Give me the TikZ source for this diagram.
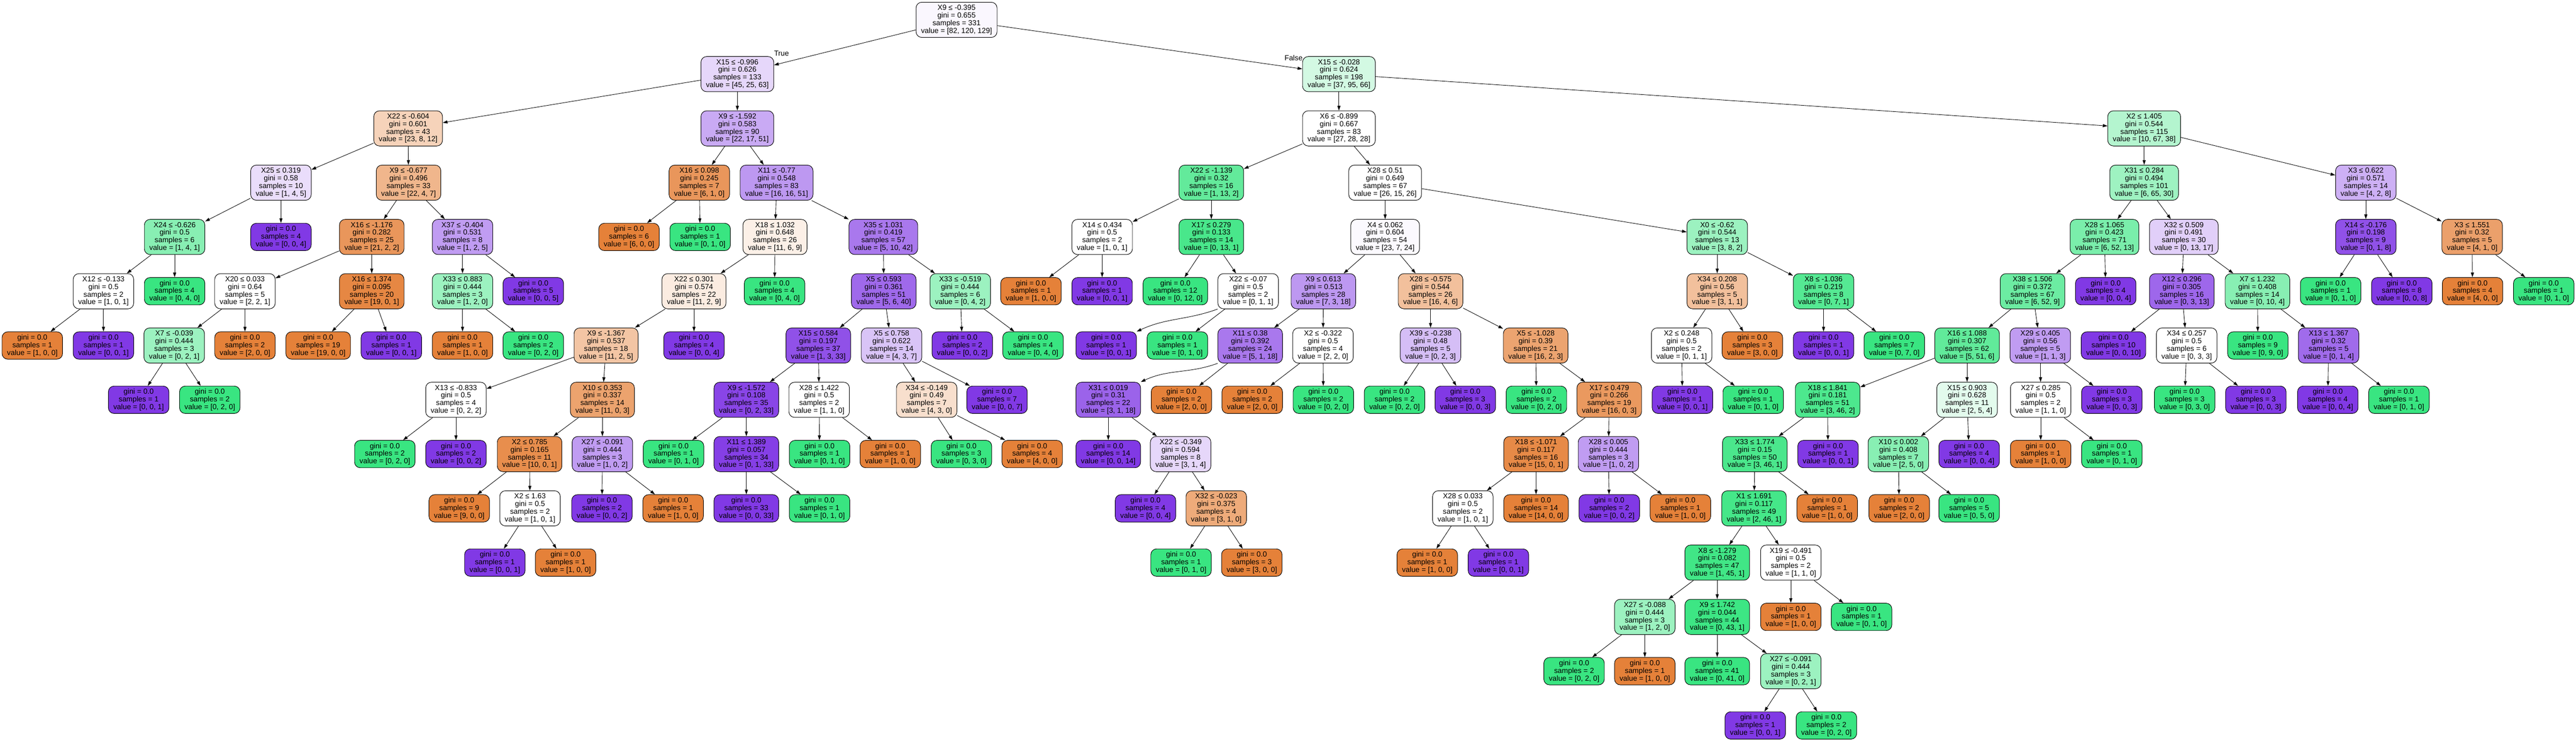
\documentclass[tikz,border=0pt]{standalone}
\usepackage{fontspec}
\setmainfont{Liberation Sans}
\usetikzlibrary{arrows.meta}
\definecolor{cOra}{RGB}{229,129,57}
\definecolor{cGrn}{RGB}{57,229,129}
\definecolor{cPur}{RGB}{129,57,229}
\tikzset{
  tnode/.style={draw, line width=0.12mm, rounded corners=1.4mm, align=center,
    inner xsep=1.22mm, inner ysep=0.5mm, font=\fontsize{5.12pt}{5.32pt}\selectfont},
  splitnode/.style={tnode, minimum height=8.6mm},
  leafnode/.style={tnode, minimum height=6.7mm},
  branch/.style={line width=0.11mm, -{Triangle[length=1.15mm,width=0.75mm]}},
  elabel/.style={inner sep=0pt, font=\fontsize{5.12pt}{5.32pt}\selectfont},
  % fill colour from the class counts
  val/.code n args={3}{%
    \pgfmathtruncatemacro\trmax{max(#1,#2,#3)}%
    \pgfmathtruncatemacro\trsnd{#1+#2+#3-\trmax-min(#1,#2,#3)}%
    \pgfmathtruncatemacro\tralpha{round(100*(\trmax-\trsnd)/(#1+#2+#3-\trsnd))}%
    \ifnum#1=\trmax\relax \def\trcls{cOra}%
    \else\ifnum#2=\trmax\relax \def\trcls{cGrn}%
    \else \def\trcls{cPur}\fi\fi
    \edef\trcol{\trcls!\tralpha!white}%
    \pgfkeysalso{fill/.expanded=\trcol}%
  },
}
\begin{document}
\begin{tikzpicture}[x=0.1mm, y=-13.27mm]
  \useasboundingbox (0,-0.3655) rectangle (6299,13.282);

  % root
  \node[splitnode, val={82}{120}{129}] (n0) at (2339,0) {X9 ≤ -0.395\\gini = 0.655\\samples = 331\\value = [82, 120, 129]};

  % left branch
  \node[splitnode, val={45}{25}{63}] (n1) at (1803,1) {X15 ≤ -0.996\\gini = 0.626\\samples = 133\\value = [45, 25, 63]};
  \node[splitnode, val={23}{8}{12}] (n2) at (998,2) {X22 ≤ -0.604\\gini = 0.601\\samples = 43\\value = [23, 8, 12]};
  \node[splitnode, val={1}{4}{5}] (n3) at (687,3) {X25 ≤ 0.319\\gini = 0.58\\samples = 10\\value = [1, 4, 5]};
  \node[splitnode, val={1}{4}{1}] (n4) at (427,4) {X24 ≤ -0.626\\gini = 0.5\\samples = 6\\value = [1, 4, 1]};
  \node[splitnode, val={1}{0}{1}] (n5) at (253,5) {X12 ≤ -0.133\\gini = 0.5\\samples = 2\\value = [1, 0, 1]};
  \node[leafnode, val={1}{0}{0}] (n6) at (79,6) {gini = 0.0\\samples = 1\\value = [1, 0, 0]};
  \node[leafnode, val={0}{0}{1}] (n7) at (253,6) {gini = 0.0\\samples = 1\\value = [0, 0, 1]};
  \node[leafnode, val={0}{4}{0}] (n8) at (427,5) {gini = 0.0\\samples = 4\\value = [0, 4, 0]};
  \node[leafnode, val={0}{0}{4}] (n9) at (687,4) {gini = 0.0\\samples = 4\\value = [0, 0, 4]};
  \node[splitnode, val={22}{4}{7}] (n10) at (999,3) {X9 ≤ -0.677\\gini = 0.496\\samples = 33\\value = [22, 4, 7]};
  \node[splitnode, val={21}{2}{2}] (n11) at (909,4) {X16 ≤ -1.176\\gini = 0.282\\samples = 25\\value = [21, 2, 2]};
  \node[splitnode, val={2}{2}{1}] (n12) at (599,5) {X20 ≤ 0.033\\gini = 0.64\\samples = 5\\value = [2, 2, 1]};
  \node[splitnode, val={0}{2}{1}] (n13) at (426,6) {X7 ≤ -0.039\\gini = 0.444\\samples = 3\\value = [0, 2, 1]};
  \node[leafnode, val={0}{0}{1}] (n14) at (339,7) {gini = 0.0\\samples = 1\\value = [0, 0, 1]};
  \node[leafnode, val={0}{2}{0}] (n15) at (513,7) {gini = 0.0\\samples = 2\\value = [0, 2, 0]};
  \node[leafnode, val={2}{0}{0}] (n16) at (599,6) {gini = 0.0\\samples = 2\\value = [2, 0, 0]};
  \node[splitnode, val={19}{0}{1}] (n17) at (909,5) {X16 ≤ 1.374\\gini = 0.095\\samples = 20\\value = [19, 0, 1]};
  \node[leafnode, val={19}{0}{0}] (n18) at (778,6) {gini = 0.0\\samples = 19\\value = [19, 0, 0]};
  \node[leafnode, val={0}{0}{1}] (n19) at (957,6) {gini = 0.0\\samples = 1\\value = [0, 0, 1]};
  \node[splitnode, val={1}{2}{5}] (n20) at (1131,4) {X37 ≤ -0.404\\gini = 0.531\\samples = 8\\value = [1, 2, 5]};
  \node[splitnode, val={1}{2}{0}] (n21) at (1131,5) {X33 ≤ 0.883\\gini = 0.444\\samples = 3\\value = [1, 2, 0]};
  \node[leafnode, val={1}{0}{0}] (n22) at (1131,6) {gini = 0.0\\samples = 1\\value = [1, 0, 0]};
  \node[leafnode, val={0}{2}{0}] (n23) at (1304,6) {gini = 0.0\\samples = 2\\value = [0, 2, 0]};
  \node[leafnode, val={0}{0}{5}] (n24) at (1304,5) {gini = 0.0\\samples = 5\\value = [0, 0, 5]};
  \node[splitnode, val={22}{17}{51}] (n25) at (1803,2) {X9 ≤ -1.592\\gini = 0.583\\samples = 90\\value = [22, 17, 51]};
  \node[splitnode, val={6}{1}{0}] (n26) at (1710,3) {X16 ≤ 0.098\\gini = 0.245\\samples = 7\\value = [6, 1, 0]};
  \node[leafnode, val={6}{0}{0}] (n27) at (1538,4) {gini = 0.0\\samples = 6\\value = [6, 0, 0]};
  \node[leafnode, val={0}{1}{0}] (n28) at (1712,4) {gini = 0.0\\samples = 1\\value = [0, 1, 0]};
  \node[splitnode, val={16}{16}{51}] (n29) at (1899,3) {X11 ≤ -0.77\\gini = 0.548\\samples = 83\\value = [16, 16, 51]};
  \node[splitnode, val={11}{6}{9}] (n30) at (1895,4) {X18 ≤ 1.032\\gini = 0.648\\samples = 26\\value = [11, 6, 9]};
  \node[splitnode, val={11}{2}{9}] (n31) at (1697,5) {X22 ≤ 0.301\\gini = 0.574\\samples = 22\\value = [11, 2, 9]};
  \node[splitnode, val={11}{2}{5}] (n32) at (1482,6) {X9 ≤ -1.367\\gini = 0.537\\samples = 18\\value = [11, 2, 5]};
  \node[splitnode, val={0}{2}{2}] (n33) at (1115,7) {X13 ≤ -0.833\\gini = 0.5\\samples = 4\\value = [0, 2, 2]};
  \node[leafnode, val={0}{2}{0}] (n34) at (941,8) {gini = 0.0\\samples = 2\\value = [0, 2, 0]};
  \node[leafnode, val={0}{0}{2}] (n35) at (1115,8) {gini = 0.0\\samples = 2\\value = [0, 0, 2]};
  \node[splitnode, val={11}{0}{3}] (n36) at (1473,7) {X10 ≤ 0.353\\gini = 0.337\\samples = 14\\value = [11, 0, 3]};
  \node[splitnode, val={10}{0}{1}] (n37) at (1295,8) {X2 ≤ 0.785\\gini = 0.165\\samples = 11\\value = [10, 0, 1]};
  \node[leafnode, val={9}{0}{0}] (n38) at (1123,9) {gini = 0.0\\samples = 9\\value = [9, 0, 0]};
  \node[splitnode, val={1}{0}{1}] (n39) at (1296,9) {X2 ≤ 1.63\\gini = 0.5\\samples = 2\\value = [1, 0, 1]};
  \node[leafnode, val={0}{0}{1}] (n40) at (1210,10) {gini = 0.0\\samples = 1\\value = [0, 0, 1]};
  \node[leafnode, val={1}{0}{0}] (n41) at (1383,10) {gini = 0.0\\samples = 1\\value = [1, 0, 0]};
  \node[splitnode, val={1}{0}{2}] (n42) at (1473,8) {X27 ≤ -0.091\\gini = 0.444\\samples = 3\\value = [1, 0, 2]};
  \node[leafnode, val={0}{0}{2}] (n43) at (1472,9) {gini = 0.0\\samples = 2\\value = [0, 0, 2]};
  \node[leafnode, val={1}{0}{0}] (n44) at (1646,9) {gini = 0.0\\samples = 1\\value = [1, 0, 0]};
  \node[leafnode, val={0}{0}{4}] (n45) at (1697,6) {gini = 0.0\\samples = 4\\value = [0, 0, 4]};
  \node[leafnode, val={0}{4}{0}] (n46) at (1894,5) {gini = 0.0\\samples = 4\\value = [0, 4, 0]};
  \node[splitnode, val={5}{10}{42}] (n47) at (2160,4) {X35 ≤ 1.031\\gini = 0.419\\samples = 57\\value = [5, 10, 42]};
  \node[splitnode, val={5}{6}{40}] (n48) at (2161,5) {X5 ≤ 0.593\\gini = 0.361\\samples = 51\\value = [5, 6, 40]};
  \node[splitnode, val={1}{3}{33}] (n49) at (2001,6) {X15 ≤ 0.584\\gini = 0.197\\samples = 37\\value = [1, 3, 33]};
  \node[splitnode, val={0}{2}{33}] (n50) at (1825,7) {X9 ≤ -1.572\\gini = 0.108\\samples = 35\\value = [0, 2, 33]};
  \node[leafnode, val={0}{1}{0}] (n51) at (1647,8) {gini = 0.0\\samples = 1\\value = [0, 1, 0]};
  \node[splitnode, val={0}{1}{33}] (n52) at (1825,8) {X11 ≤ 1.389\\gini = 0.057\\samples = 34\\value = [0, 1, 33]};
  \node[leafnode, val={0}{0}{33}] (n53) at (1825,9) {gini = 0.0\\samples = 33\\value = [0, 0, 33]};
  \node[leafnode, val={0}{1}{0}] (n54) at (2004,9) {gini = 0.0\\samples = 1\\value = [0, 1, 0]};
  \node[splitnode, val={1}{1}{0}] (n55) at (2003,7) {X28 ≤ 1.422\\gini = 0.5\\samples = 2\\value = [1, 1, 0]};
  \node[leafnode, val={0}{1}{0}] (n56) at (2004,8) {gini = 0.0\\samples = 1\\value = [0, 1, 0]};
  \node[leafnode, val={1}{0}{0}] (n57) at (2177,8) {gini = 0.0\\samples = 1\\value = [1, 0, 0]};
  \node[splitnode, val={4}{3}{7}] (n58) at (2180,6) {X5 ≤ 0.758\\gini = 0.622\\samples = 14\\value = [4, 3, 7]};
  \node[splitnode, val={4}{3}{0}] (n59) at (2266,7) {X34 ≤ -0.149\\gini = 0.49\\samples = 7\\value = [4, 3, 0]};
  \node[leafnode, val={0}{3}{0}] (n60) at (2351,8) {gini = 0.0\\samples = 3\\value = [0, 3, 0]};
  \node[leafnode, val={4}{0}{0}] (n61) at (2524,8) {gini = 0.0\\samples = 4\\value = [4, 0, 0]};
  \node[leafnode, val={0}{0}{7}] (n62) at (2438,7) {gini = 0.0\\samples = 7\\value = [0, 0, 7]};
  \node[splitnode, val={0}{4}{2}] (n63) at (2348,5) {X33 ≤ -0.519\\gini = 0.444\\samples = 6\\value = [0, 4, 2]};
  \node[leafnode, val={0}{0}{2}] (n64) at (2353,6) {gini = 0.0\\samples = 2\\value = [0, 0, 2]};
  \node[leafnode, val={0}{4}{0}] (n65) at (2526,6) {gini = 0.0\\samples = 4\\value = [0, 4, 0]};

  % right branch
  \node[splitnode, val={37}{95}{66}] (n66) at (3274,1) {X15 ≤ -0.028\\gini = 0.624\\samples = 198\\value = [37, 95, 66]};
  \node[splitnode, val={27}{28}{28}] (n67) at (3274,2) {X6 ≤ -0.899\\gini = 0.667\\samples = 83\\value = [27, 28, 28]};
  \node[splitnode, val={1}{13}{2}] (n68) at (2962,3) {X22 ≤ -1.139\\gini = 0.32\\samples = 16\\value = [1, 13, 2]};
  \node[splitnode, val={1}{0}{1}] (n69) at (2695,4) {X14 ≤ 0.434\\gini = 0.5\\samples = 2\\value = [1, 0, 1]};
  \node[leafnode, val={1}{0}{0}] (n70) at (2521,5) {gini = 0.0\\samples = 1\\value = [1, 0, 0]};
  \node[leafnode, val={0}{0}{1}] (n71) at (2695,5) {gini = 0.0\\samples = 1\\value = [0, 0, 1]};
  \node[splitnode, val={0}{13}{1}] (n72) at (2962,4) {X17 ≤ 0.279\\gini = 0.133\\samples = 14\\value = [0, 13, 1]};
  \node[leafnode, val={0}{12}{0}] (n73) at (2874,5) {gini = 0.0\\samples = 12\\value = [0, 12, 0]};
  \node[splitnode, val={0}{1}{1}] (n74) at (3052,5) {X22 ≤ -0.07\\gini = 0.5\\samples = 2\\value = [0, 1, 1]};
  \node[leafnode, val={0}{0}{1}] (n75) at (2705,6) {gini = 0.0\\samples = 1\\value = [0, 0, 1]};
  \node[leafnode, val={0}{1}{0}] (n76) at (2879,6) {gini = 0.0\\samples = 1\\value = [0, 1, 0]};
  \node[splitnode, val={26}{15}{26}] (n77) at (3387,3) {X28 ≤ 0.51\\gini = 0.649\\samples = 67\\value = [26, 15, 26]};
  \node[splitnode, val={23}{7}{24}] (n78) at (3387,4) {X4 ≤ 0.062\\gini = 0.604\\samples = 54\\value = [23, 7, 24]};
  \node[splitnode, val={7}{3}{18}] (n79) at (3236,5) {X9 ≤ 0.613\\gini = 0.513\\samples = 28\\value = [7, 3, 18]};
  \node[splitnode, val={5}{1}{18}] (n80) at (3057,6) {X11 ≤ 0.38\\gini = 0.392\\samples = 24\\value = [5, 1, 18]};
  \node[splitnode, val={3}{1}{18}] (n81) at (2710,7) {X31 ≤ 0.019\\gini = 0.31\\samples = 22\\value = [3, 1, 18]};
  \node[leafnode, val={0}{0}{14}] (n82) at (2710,8) {gini = 0.0\\samples = 14\\value = [0, 0, 14]};
  \node[splitnode, val={3}{1}{4}] (n83) at (2887,8) {X22 ≤ -0.349\\gini = 0.594\\samples = 8\\value = [3, 1, 4]};
  \node[leafnode, val={0}{0}{4}] (n84) at (2801,9) {gini = 0.0\\samples = 4\\value = [0, 0, 4]};
  \node[splitnode, val={3}{1}{0}] (n85) at (2974,9) {X32 ≤ -0.023\\gini = 0.375\\samples = 4\\value = [3, 1, 0]};
  \node[leafnode, val={0}{1}{0}] (n86) at (2888,10) {gini = 0.0\\samples = 1\\value = [0, 1, 0]};
  \node[leafnode, val={3}{0}{0}] (n87) at (3061,10) {gini = 0.0\\samples = 3\\value = [3, 0, 0]};
  \node[leafnode, val={2}{0}{0}] (n88) at (2889,7) {gini = 0.0\\samples = 2\\value = [2, 0, 0]};
  \node[splitnode, val={2}{2}{0}] (n89) at (3235,6) {X2 ≤ -0.322\\gini = 0.5\\samples = 4\\value = [2, 2, 0]};
  \node[leafnode, val={2}{0}{0}] (n90) at (3062,7) {gini = 0.0\\samples = 2\\value = [2, 0, 0]};
  \node[leafnode, val={0}{2}{0}] (n91) at (3236,7) {gini = 0.0\\samples = 2\\value = [0, 2, 0]};
  \node[splitnode, val={16}{4}{6}] (n92) at (3498,5) {X28 ≤ -0.575\\gini = 0.544\\samples = 26\\value = [16, 4, 6]};
  \node[splitnode, val={0}{2}{3}] (n93) at (3498,6) {X39 ≤ -0.238\\gini = 0.48\\samples = 5\\value = [0, 2, 3]};
  \node[leafnode, val={0}{2}{0}] (n94) at (3410,7) {gini = 0.0\\samples = 2\\value = [0, 2, 0]};
  \node[leafnode, val={0}{0}{3}] (n95) at (3583,7) {gini = 0.0\\samples = 3\\value = [0, 0, 3]};
  \node[splitnode, val={16}{2}{3}] (n96) at (3755,6) {X5 ≤ -1.028\\gini = 0.39\\samples = 21\\value = [16, 2, 3]};
  \node[leafnode, val={0}{2}{0}] (n97) at (3757,7) {gini = 0.0\\samples = 2\\value = [0, 2, 0]};
  \node[splitnode, val={16}{0}{3}] (n98) at (3935,7) {X17 ≤ 0.479\\gini = 0.266\\samples = 19\\value = [16, 0, 3]};
  \node[splitnode, val={15}{0}{1}] (n99) at (3756,8) {X18 ≤ -1.071\\gini = 0.117\\samples = 16\\value = [15, 0, 1]};
  \node[splitnode, val={1}{0}{1}] (n100) at (3577,9) {X28 ≤ 0.033\\gini = 0.5\\samples = 2\\value = [1, 0, 1]};
  \node[leafnode, val={1}{0}{0}] (n101) at (3490,10) {gini = 0.0\\samples = 1\\value = [1, 0, 0]};
  \node[leafnode, val={0}{0}{1}] (n102) at (3664,10) {gini = 0.0\\samples = 1\\value = [0, 0, 1]};
  \node[leafnode, val={14}{0}{0}] (n103) at (3756,9) {gini = 0.0\\samples = 14\\value = [14, 0, 0]};
  \node[splitnode, val={1}{0}{2}] (n104) at (3933,8) {X28 ≤ 0.005\\gini = 0.444\\samples = 3\\value = [1, 0, 2]};
  \node[leafnode, val={0}{0}{2}] (n105) at (3935,9) {gini = 0.0\\samples = 2\\value = [0, 0, 2]};
  \node[leafnode, val={1}{0}{0}] (n106) at (4109,9) {gini = 0.0\\samples = 1\\value = [1, 0, 0]};
  \node[splitnode, val={3}{8}{2}] (n107) at (4199,4) {X0 ≤ -0.62\\gini = 0.544\\samples = 13\\value = [3, 8, 2]};
  \node[splitnode, val={3}{1}{1}] (n108) at (4199,5) {X34 ≤ 0.208\\gini = 0.56\\samples = 5\\value = [3, 1, 1]};
  \node[splitnode, val={0}{1}{1}] (n109) at (4112,6) {X2 ≤ 0.248\\gini = 0.5\\samples = 2\\value = [0, 1, 1]};
  \node[leafnode, val={0}{0}{1}] (n110) at (4114,7) {gini = 0.0\\samples = 1\\value = [0, 0, 1]};
  \node[leafnode, val={0}{1}{0}] (n111) at (4287,7) {gini = 0.0\\samples = 1\\value = [0, 1, 0]};
  \node[leafnode, val={3}{0}{0}] (n112) at (4285,6) {gini = 0.0\\samples = 3\\value = [3, 0, 0]};
  \node[splitnode, val={0}{7}{1}] (n113) at (4459,5) {X8 ≤ -1.036\\gini = 0.219\\samples = 8\\value = [0, 7, 1]};
  \node[leafnode, val={0}{0}{1}] (n114) at (4459,6) {gini = 0.0\\samples = 1\\value = [0, 0, 1]};
  \node[leafnode, val={0}{7}{0}] (n115) at (4632,6) {gini = 0.0\\samples = 7\\value = [0, 7, 0]};
  \node[splitnode, val={10}{67}{38}] (n116) at (5243,2) {X2 ≤ 1.405\\gini = 0.544\\samples = 115\\value = [10, 67, 38]};
  \node[splitnode, val={6}{65}{30}] (n117) at (5243,3) {X31 ≤ 0.284\\gini = 0.494\\samples = 101\\value = [6, 65, 30]};
  \node[splitnode, val={6}{52}{13}] (n118) at (5146,4) {X28 ≤ 1.065\\gini = 0.423\\samples = 71\\value = [6, 52, 13]};
  \node[splitnode, val={6}{52}{9}] (n119) at (4970,5) {X38 ≤ 1.506\\gini = 0.372\\samples = 67\\value = [6, 52, 9]};
  \node[splitnode, val={5}{51}{6}] (n120) at (4810,6) {X16 ≤ 1.088\\gini = 0.307\\samples = 62\\value = [5, 51, 6]};
  \node[splitnode, val={3}{46}{2}] (n121) at (4469,7) {X18 ≤ 1.841\\gini = 0.181\\samples = 51\\value = [3, 46, 2]};
  \node[splitnode, val={3}{46}{1}] (n122) at (4291,8) {X33 ≤ 1.774\\gini = 0.15\\samples = 50\\value = [3, 46, 1]};
  \node[splitnode, val={2}{46}{1}] (n123) at (4289,9) {X1 ≤ 1.691\\gini = 0.117\\samples = 49\\value = [2, 46, 1]};
  \node[splitnode, val={1}{45}{1}] (n124) at (4199,10) {X8 ≤ -1.279\\gini = 0.082\\samples = 47\\value = [1, 45, 1]};
  \node[splitnode, val={1}{2}{0}] (n125) at (4022,11) {X27 ≤ -0.088\\gini = 0.444\\samples = 3\\value = [1, 2, 0]};
  \node[leafnode, val={0}{2}{0}] (n126) at (3849,12) {gini = 0.0\\samples = 2\\value = [0, 2, 0]};
  \node[leafnode, val={1}{0}{0}] (n127) at (4022,12) {gini = 0.0\\samples = 1\\value = [1, 0, 0]};
  \node[splitnode, val={0}{43}{1}] (n128) at (4199,11) {X9 ≤ 1.742\\gini = 0.044\\samples = 44\\value = [0, 43, 1]};
  \node[leafnode, val={0}{41}{0}] (n129) at (4199,12) {gini = 0.0\\samples = 41\\value = [0, 41, 0]};
  \node[splitnode, val={0}{2}{1}] (n130) at (4379,12) {X27 ≤ -0.091\\gini = 0.444\\samples = 3\\value = [0, 2, 1]};
  \node[leafnode, val={0}{0}{1}] (n131) at (4292,13) {gini = 0.0\\samples = 1\\value = [0, 0, 1]};
  \node[leafnode, val={0}{2}{0}] (n132) at (4466,13) {gini = 0.0\\samples = 2\\value = [0, 2, 0]};
  \node[splitnode, val={1}{1}{0}] (n133) at (4379,10) {X19 ≤ -0.491\\gini = 0.5\\samples = 2\\value = [1, 1, 0]};
  \node[leafnode, val={1}{0}{0}] (n134) at (4379,11) {gini = 0.0\\samples = 1\\value = [1, 0, 0]};
  \node[leafnode, val={0}{1}{0}] (n135) at (4552,11) {gini = 0.0\\samples = 1\\value = [0, 1, 0]};
  \node[leafnode, val={1}{0}{0}] (n136) at (4468,9) {gini = 0.0\\samples = 1\\value = [1, 0, 0]};
  \node[leafnode, val={0}{0}{1}] (n137) at (4470,8) {gini = 0.0\\samples = 1\\value = [0, 0, 1]};
  \node[splitnode, val={2}{5}{4}] (n138) at (4810,7) {X15 ≤ 0.903\\gini = 0.628\\samples = 11\\value = [2, 5, 4]};
  \node[splitnode, val={2}{5}{0}] (n139) at (4642,8) {X10 ≤ 0.002\\gini = 0.408\\samples = 7\\value = [2, 5, 0]};
  \node[leafnode, val={2}{0}{0}] (n140) at (4644,9) {gini = 0.0\\samples = 2\\value = [2, 0, 0]};
  \node[leafnode, val={0}{5}{0}] (n141) at (4815,9) {gini = 0.0\\samples = 5\\value = [0, 5, 0]};
  \node[leafnode, val={0}{0}{4}] (n142) at (4815,8) {gini = 0.0\\samples = 4\\value = [0, 0, 4]};
  \node[splitnode, val={1}{1}{3}] (n143) at (4989,6) {X29 ≤ 0.405\\gini = 0.56\\samples = 5\\value = [1, 1, 3]};
  \node[splitnode, val={1}{1}{0}] (n144) at (4990,7) {X27 ≤ 0.285\\gini = 0.5\\samples = 2\\value = [1, 1, 0]};
  \node[leafnode, val={1}{0}{0}] (n145) at (4990,8) {gini = 0.0\\samples = 1\\value = [1, 0, 0]};
  \node[leafnode, val={0}{1}{0}] (n146) at (5164,8) {gini = 0.0\\samples = 1\\value = [0, 1, 0]};
  \node[leafnode, val={0}{0}{3}] (n147) at (5164,7) {gini = 0.0\\samples = 3\\value = [0, 0, 3]};
  \node[leafnode, val={0}{0}{4}] (n148) at (5149,5) {gini = 0.0\\samples = 4\\value = [0, 0, 4]};
  \node[splitnode, val={0}{13}{17}] (n149) at (5340,4) {X32 ≤ 0.509\\gini = 0.491\\samples = 30\\value = [0, 13, 17]};
  \node[splitnode, val={0}{3}{13}] (n150) at (5335,5) {X12 ≤ 0.296\\gini = 0.305\\samples = 16\\value = [0, 3, 13]};
  \node[leafnode, val={0}{0}{10}] (n151) at (5168,6) {gini = 0.0\\samples = 10\\value = [0, 0, 10]};
  \node[splitnode, val={0}{3}{3}] (n152) at (5347,6) {X34 ≤ 0.257\\gini = 0.5\\samples = 6\\value = [0, 3, 3]};
  \node[leafnode, val={0}{3}{0}] (n153) at (5342,7) {gini = 0.0\\samples = 3\\value = [0, 3, 0]};
  \node[leafnode, val={0}{0}{3}] (n154) at (5516,7) {gini = 0.0\\samples = 3\\value = [0, 0, 3]};
  \node[splitnode, val={0}{10}{4}] (n155) at (5520,5) {X7 ≤ 1.232\\gini = 0.408\\samples = 14\\value = [0, 10, 4]};
  \node[leafnode, val={0}{9}{0}] (n156) at (5521,6) {gini = 0.0\\samples = 9\\value = [0, 9, 0]};
  \node[splitnode, val={0}{1}{4}] (n157) at (5694,6) {X13 ≤ 1.367\\gini = 0.32\\samples = 5\\value = [0, 1, 4]};
  \node[leafnode, val={0}{0}{4}] (n158) at (5692,7) {gini = 0.0\\samples = 4\\value = [0, 0, 4]};
  \node[leafnode, val={0}{1}{0}] (n159) at (5866,7) {gini = 0.0\\samples = 1\\value = [0, 1, 0]};
  \node[splitnode, val={4}{2}{8}] (n160) at (5785,3) {X3 ≤ 0.622\\gini = 0.571\\samples = 14\\value = [4, 2, 8]};
  \node[splitnode, val={0}{1}{8}] (n161) at (5785,4) {X14 ≤ -0.176\\gini = 0.198\\samples = 9\\value = [0, 1, 8]};
  \node[leafnode, val={0}{1}{0}] (n162) at (5699,5) {gini = 0.0\\samples = 1\\value = [0, 1, 0]};
  \node[leafnode, val={0}{0}{8}] (n163) at (5873,5) {gini = 0.0\\samples = 8\\value = [0, 0, 8]};
  \node[splitnode, val={4}{1}{0}] (n164) at (6045,4) {X3 ≤ 1.551\\gini = 0.32\\samples = 5\\value = [4, 1, 0]};
  \node[leafnode, val={4}{0}{0}] (n165) at (6046,5) {gini = 0.0\\samples = 4\\value = [4, 0, 0]};
  \node[leafnode, val={0}{1}{0}] (n166) at (6220,5) {gini = 0.0\\samples = 1\\value = [0, 1, 0]};

  % True / False labels
  \node[elabel] (lTrue) at (1911,0.62) {True};
  \node[elabel] (lFalse) at (3163,0.70) {False};

  % branches
  \draw[branch] (n0) -- (n1); \draw[branch] (n0) -- (n66);
  \draw[branch] (n1) -- (n2); \draw[branch] (n1) -- (n25);
  \draw[branch] (n2) -- (n3); \draw[branch] (n2) -- (n10);
  \draw[branch] (n3) -- (n4); \draw[branch] (n3) -- (n9);
  \draw[branch] (n4) -- (n5); \draw[branch] (n4) -- (n8);
  \draw[branch] (n5) -- (n6); \draw[branch] (n5) -- (n7);
  \draw[branch] (n10) -- (n11); \draw[branch] (n10) -- (n20);
  \draw[branch] (n11) -- (n12); \draw[branch] (n11) -- (n17);
  \draw[branch] (n12) -- (n13); \draw[branch] (n12) -- (n16);
  \draw[branch] (n13) -- (n14); \draw[branch] (n13) -- (n15);
  \draw[branch] (n17) -- (n18); \draw[branch] (n17) -- (n19);
  \draw[branch] (n20) -- (n21); \draw[branch] (n20) -- (n24);
  \draw[branch] (n21) -- (n22); \draw[branch] (n21) -- (n23);
  \draw[branch] (n25) -- (n26); \draw[branch] (n25) -- (n29);
  \draw[branch] (n26) -- (n27); \draw[branch] (n26) -- (n28);
  \draw[branch] (n29) -- (n30); \draw[branch] (n29) -- (n47);
  \draw[branch] (n30) -- (n31); \draw[branch] (n30) -- (n46);
  \draw[branch] (n31) -- (n32); \draw[branch] (n31) -- (n45);
  \draw[branch] (n32) -- (n33); \draw[branch] (n32) -- (n36);
  \draw[branch] (n33) -- (n34); \draw[branch] (n33) -- (n35);
  \draw[branch] (n36) -- (n37); \draw[branch] (n36) -- (n42);
  \draw[branch] (n37) -- (n38); \draw[branch] (n37) -- (n39);
  \draw[branch] (n39) -- (n40); \draw[branch] (n39) -- (n41);
  \draw[branch] (n42) -- (n43); \draw[branch] (n42) -- (n44);
  \draw[branch] (n47) -- (n48); \draw[branch] (n47) -- (n63);
  \draw[branch] (n48) -- (n49); \draw[branch] (n48) -- (n58);
  \draw[branch] (n49) -- (n50); \draw[branch] (n49) -- (n55);
  \draw[branch] (n50) -- (n51); \draw[branch] (n50) -- (n52);
  \draw[branch] (n52) -- (n53); \draw[branch] (n52) -- (n54);
  \draw[branch] (n55) -- (n56); \draw[branch] (n55) -- (n57);
  \draw[branch] (n58) -- (n59); \draw[branch] (n58) -- (n62);
  \draw[branch] (n59) -- (n60); \draw[branch] (n59) -- (n61);
  \draw[branch] (n63) -- (n64); \draw[branch] (n63) -- (n65);
  \draw[branch] (n66) -- (n67); \draw[branch] (n66) -- (n116);
  \draw[branch] (n67) -- (n68); \draw[branch] (n67) -- (n77);
  \draw[branch] (n68) -- (n69); \draw[branch] (n68) -- (n72);
  \draw[branch] (n69) -- (n70); \draw[branch] (n69) -- (n71);
  \draw[branch] (n72) -- (n73); \draw[branch] (n72) -- (n74);
  \draw[branch] (n74.south west) to[out=200,in=25] (n75.north east); \draw[branch] (n74) -- (n76);
  \draw[branch] (n77) -- (n78); \draw[branch] (n77) -- (n107);
  \draw[branch] (n78) -- (n79); \draw[branch] (n78) -- (n92);
  \draw[branch] (n79) -- (n80); \draw[branch] (n79) -- (n89);
  \draw[branch] (n80.south west) to[out=200,in=25] (n81.north east); \draw[branch] (n80) -- (n88);
  \draw[branch] (n81) -- (n82); \draw[branch] (n81) -- (n83);
  \draw[branch] (n83) -- (n84); \draw[branch] (n83) -- (n85);
  \draw[branch] (n85) -- (n86); \draw[branch] (n85) -- (n87);
  \draw[branch] (n89) -- (n90); \draw[branch] (n89) -- (n91);
  \draw[branch] (n92) -- (n93); \draw[branch] (n92) -- (n96);
  \draw[branch] (n93) -- (n94); \draw[branch] (n93) -- (n95);
  \draw[branch] (n96) -- (n97); \draw[branch] (n96) -- (n98);
  \draw[branch] (n98) -- (n99); \draw[branch] (n98) -- (n104);
  \draw[branch] (n99) -- (n100); \draw[branch] (n99) -- (n103);
  \draw[branch] (n100) -- (n101); \draw[branch] (n100) -- (n102);
  \draw[branch] (n104) -- (n105); \draw[branch] (n104) -- (n106);
  \draw[branch] (n107) -- (n108); \draw[branch] (n107) -- (n113);
  \draw[branch] (n108) -- (n109); \draw[branch] (n108) -- (n112);
  \draw[branch] (n109) -- (n110); \draw[branch] (n109) -- (n111);
  \draw[branch] (n113) -- (n114); \draw[branch] (n113) -- (n115);
  \draw[branch] (n116) -- (n117); \draw[branch] (n116) -- (n160);
  \draw[branch] (n117) -- (n118); \draw[branch] (n117) -- (n149);
  \draw[branch] (n118) -- (n119); \draw[branch] (n118) -- (n148);
  \draw[branch] (n119) -- (n120); \draw[branch] (n119) -- (n143);
  \draw[branch] (n120) -- (n121); \draw[branch] (n120) -- (n138);
  \draw[branch] (n121) -- (n122); \draw[branch] (n121) -- (n137);
  \draw[branch] (n122) -- (n123); \draw[branch] (n122) -- (n136);
  \draw[branch] (n123) -- (n124); \draw[branch] (n123) -- (n133);
  \draw[branch] (n124) -- (n125); \draw[branch] (n124) -- (n128);
  \draw[branch] (n125) -- (n126); \draw[branch] (n125) -- (n127);
  \draw[branch] (n128) -- (n129); \draw[branch] (n128) -- (n130);
  \draw[branch] (n130) -- (n131); \draw[branch] (n130) -- (n132);
  \draw[branch] (n133) -- (n134); \draw[branch] (n133) -- (n135);
  \draw[branch] (n138) -- (n139); \draw[branch] (n138) -- (n142);
  \draw[branch] (n139) -- (n140); \draw[branch] (n139) -- (n141);
  \draw[branch] (n143) -- (n144); \draw[branch] (n143) -- (n147);
  \draw[branch] (n144) -- (n145); \draw[branch] (n144) -- (n146);
  \draw[branch] (n149) -- (n150); \draw[branch] (n149) -- (n155);
  \draw[branch] (n150) -- (n151); \draw[branch] (n150) -- (n152);
  \draw[branch] (n152) -- (n153); \draw[branch] (n152) -- (n154);
  \draw[branch] (n155) -- (n156); \draw[branch] (n155) -- (n157);
  \draw[branch] (n157) -- (n158); \draw[branch] (n157) -- (n159);
  \draw[branch] (n160) -- (n161); \draw[branch] (n160) -- (n164);
  \draw[branch] (n161) -- (n162); \draw[branch] (n161) -- (n163);
  \draw[branch] (n164) -- (n165); \draw[branch] (n164) -- (n166);
\end{tikzpicture}
\end{document}
